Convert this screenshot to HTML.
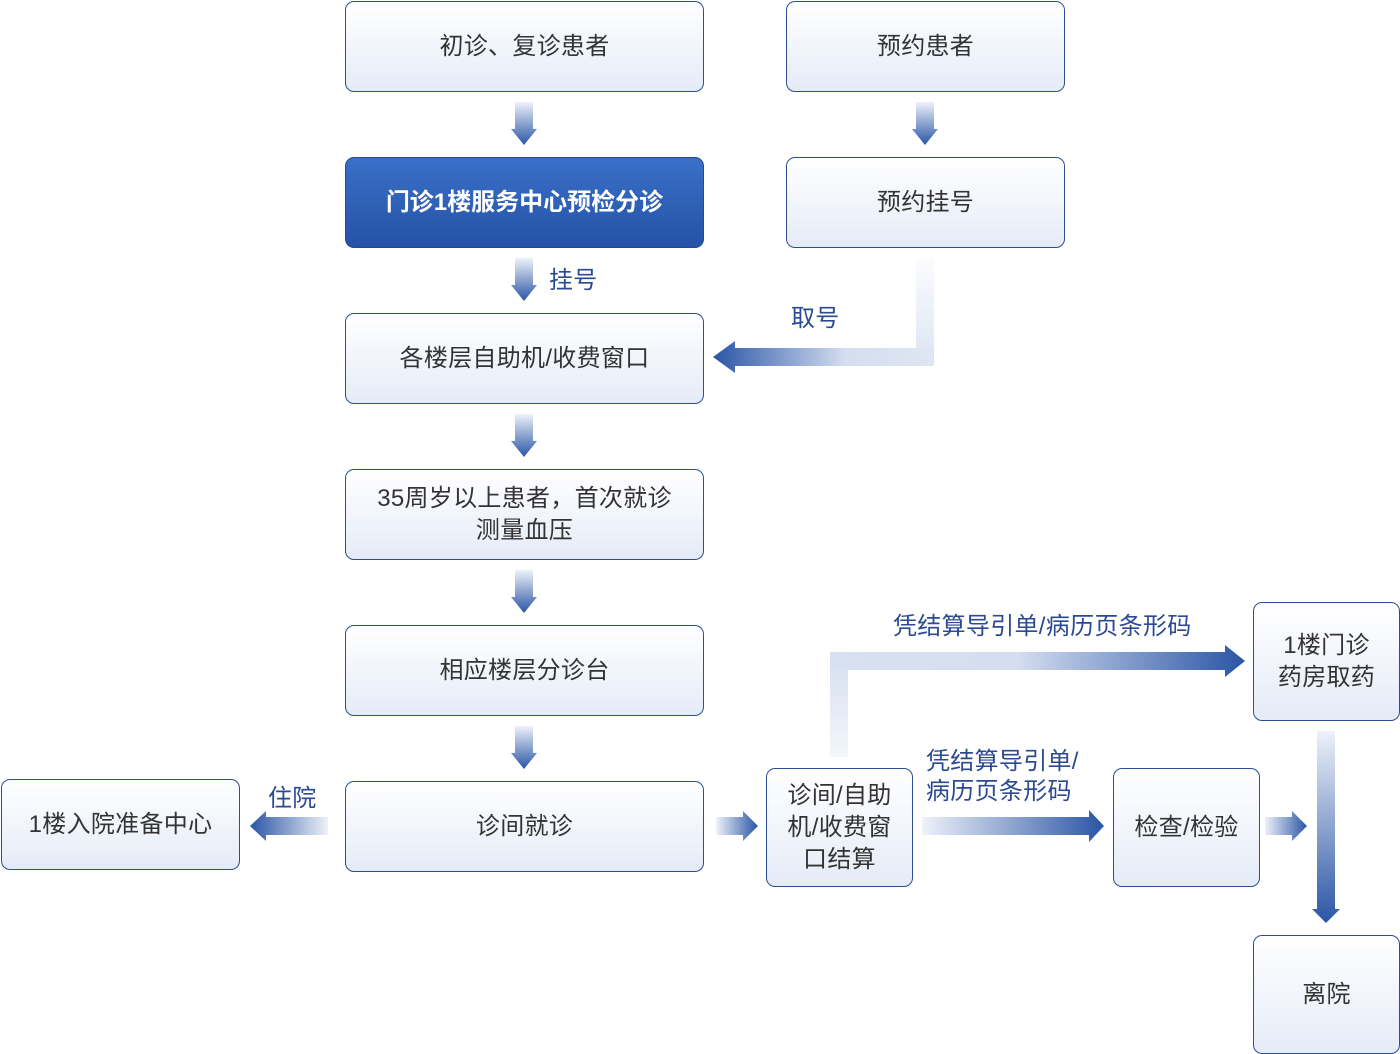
<!DOCTYPE html>
<html><head><meta charset="utf-8"><style>
body{margin:0;width:1400px;height:1054px;background:#fff;position:relative;overflow:hidden;font-family:"Liberation Sans","Noto Sans CJK SC",sans-serif}
.b{position:absolute;box-sizing:border-box;border:1.3px solid #2d4f92;border-radius:9px;background:linear-gradient(#ffffff,#e5ebf7);display:flex;align-items:center;justify-content:center;text-align:center;color:#333;font-size:24px;letter-spacing:0.3px;line-height:32px}
.blue{background:linear-gradient(#3a70c8,#2452a6);color:#fff;font-weight:bold;border-color:#234a95;letter-spacing:0}
.l{position:absolute;color:#2b4a92;font-size:24px;letter-spacing:0.3px;line-height:30px;white-space:nowrap}
svg{position:absolute;left:0;top:0}
</style></head><body>
<svg width="1400" height="1054">
<defs>
<linearGradient id="gd" x1="0" y1="0" x2="0" y2="1"><stop offset="0" stop-color="#eef2fa"/><stop offset="1" stop-color="#2a55a5"/></linearGradient>
<linearGradient id="gr" x1="0" y1="0" x2="1" y2="0"><stop offset="0" stop-color="#eef2fa"/><stop offset="1" stop-color="#2a55a5"/></linearGradient>
<linearGradient id="gl" x1="1" y1="0" x2="0" y2="0"><stop offset="0" stop-color="#eef2fa"/><stop offset="1" stop-color="#2a55a5"/></linearGradient>
<linearGradient id="gL" gradientUnits="userSpaceOnUse" x1="934" y1="0" x2="713" y2="0"><stop offset="0" stop-color="#dfe6f3"/><stop offset="0.4" stop-color="#d4def0"/><stop offset="1" stop-color="#2a55a5"/></linearGradient>
<linearGradient id="gLv" x1="0" y1="0" x2="0" y2="1"><stop offset="0" stop-color="#fbfcfe"/><stop offset="1" stop-color="#dfe6f3"/></linearGradient>
<linearGradient id="gT" gradientUnits="userSpaceOnUse" x1="830" y1="0" x2="1245" y2="0"><stop offset="0" stop-color="#d8e1f1"/><stop offset="0.45" stop-color="#d4def0"/><stop offset="1" stop-color="#2a55a5"/></linearGradient>
<linearGradient id="gTv" x1="0" y1="1" x2="0" y2="0"><stop offset="0" stop-color="#f3f6fb"/><stop offset="1" stop-color="#d8e1f1"/></linearGradient>
</defs>
<g fill="url(#gd)">
<path d="M515 102h18v27h4l-13 16-13-16h4z"/>
<path d="M515 258h18v27h4l-13 16-13-16h4z"/>
<path d="M515 414h18v27h4l-13 16-13-16h4z"/>
<path d="M515 570h18v27h4l-13 16-13-16h4z"/>
<path d="M515 726h18v27h4l-13 16-13-16h4z"/>
<path d="M916 102h18v27h4l-13 16-13-16h4z"/>
<path d="M1317 731h18v178h5l-14 14-14-14h5z"/>
</g>
<rect x="916" y="258" width="18" height="100" fill="url(#gLv)"/>
<path d="M934 348v18H735v7l-22-16 22-16v7z" fill="url(#gL)"/>
<rect x="830" y="662" width="18" height="95" fill="url(#gTv)"/>
<path d="M830 652h395v-7l20 16-20 16v-7H830z" fill="url(#gT)"/>
<path d="M328 817v18h-62v6l-16-15 16-15v6z" fill="url(#gl)"/>
<path d="M716 817h27v-6l15 15-15 15v-6h-27z" fill="url(#gr)"/>
<path d="M922 817h167v-7l15 16-15 16v-7H922z" fill="url(#gr)"/>
<path d="M1265 817h27v-6l15 15-15 15v-6h-27z" fill="url(#gr)"/>
</svg>
<div class="b" style="left:345px;top:1px;width:359px;height:91px">初诊、复诊患者</div>
<div class="b" style="left:786px;top:1px;width:279px;height:91px">预约患者</div>
<div class="b blue" style="left:345px;top:157px;width:359px;height:91px">门诊1楼服务中心预检分诊</div>
<div class="b" style="left:786px;top:157px;width:279px;height:91px">预约挂号</div>
<div class="b" style="left:345px;top:313px;width:359px;height:91px">各楼层自助机/收费窗口</div>
<div class="b" style="left:345px;top:469px;width:359px;height:91px">35周岁以上患者，首次就诊<br>测量血压</div>
<div class="b" style="left:345px;top:625px;width:359px;height:91px">相应楼层分诊台</div>
<div class="b" style="left:345px;top:781px;width:359px;height:91px">诊间就诊</div>
<div class="b" style="left:1px;top:779px;width:239px;height:91px">1楼入院准备中心</div>
<div class="b" style="left:766px;top:768px;width:147px;height:119px">诊间/自助<br>机/收费窗<br>口结算</div>
<div class="b" style="left:1113px;top:768px;width:147px;height:119px">检查/检验</div>
<div class="b" style="left:1253px;top:602px;width:147px;height:119px">1楼门诊<br>药房取药</div>
<div class="b" style="left:1253px;top:935px;width:147px;height:119px">离院</div>
<div class="l" style="left:549px;top:266px">挂号</div>
<div class="l" style="left:791px;top:304px">取号</div>
<div class="l" style="left:268px;top:784px">住院</div>
<div class="l" style="left:893px;top:612px">凭结算导引单/病历页条形码</div>
<div class="l" style="left:926px;top:747px">凭结算导引单/<br>病历页条形码</div>
</body></html>
